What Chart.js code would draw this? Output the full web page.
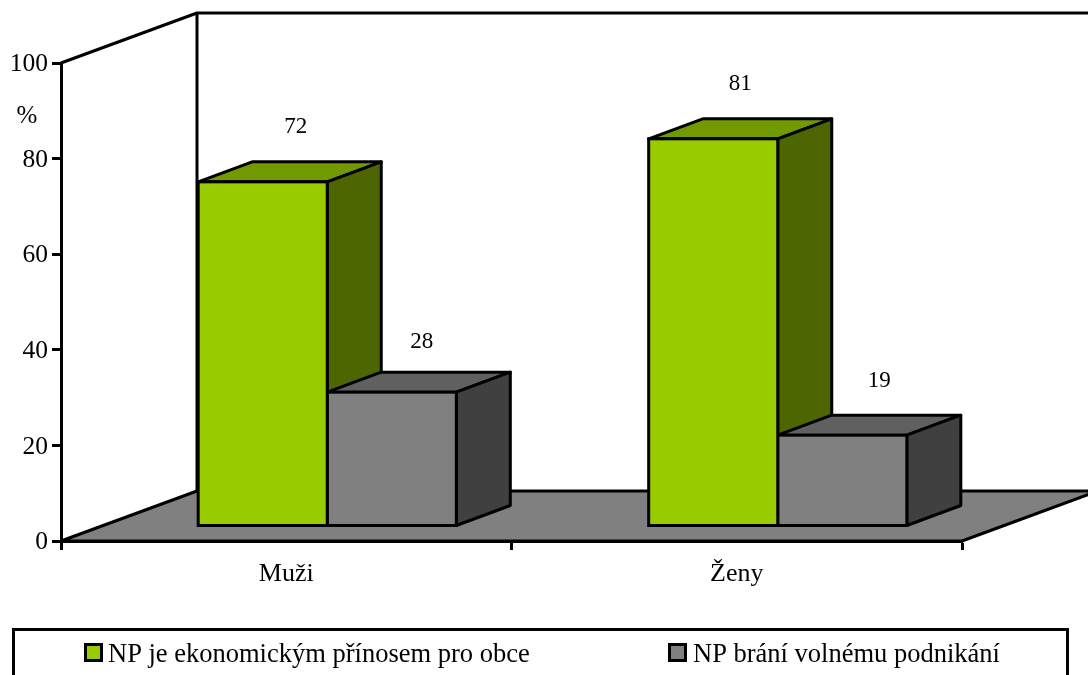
<!DOCTYPE html>
<html>
<head>
<meta charset="utf-8">
<style>
html,body{margin:0;padding:0;background:#fff;overflow:hidden}
#wrap{width:1088px;height:675px}
</style>
<script src="https://cdn.jsdelivr.net/npm/chart.js@4"></script>
</head>
<body>
<div id="wrap"><canvas id="chart" width="1088" height="675"></canvas></div>
<script>
const categories = ["Muži", "Ženy"]
const seriesNames = ["NP je ekonomickým přínosem pro obce", "NP brání volnému podnikání"]
const prinos = [72, 81]
const brani = [28, 19]
const yTicks = [0, 20, 40, 60, 80, 100]

const FONT = '"Liberation Serif"'
const LINE = 3
const frontFill = ["#99cc00", "#808080"]
const topFill = ["#739900", "#606060"]
const sideFill = ["#4d6600", "#404040"]

// 3d look: wall depth, how far bars sit from the front edge, bar depth
const wall = {dx: 136, dy: -50}
const shift = {dx: 41, dy: -15}
const depth = {dx: 54, dy: -20}
// the value labels are not placed evenly in the original
const labelNudge = [[[33, -54.5], [27, -55]], [[30, -50], [37, -54]]]

function poly(ctx, pts, fill){
    ctx.beginPath()
    pts.forEach((p, i)=> i ? ctx.lineTo(p[0], p[1]) : ctx.moveTo(p[0], p[1]))
    ctx.closePath()
    if(fill){ ctx.fillStyle = fill; ctx.fill() }
    ctx.stroke()
}

const box3d = {
    id: "box3d",
    // floor and walls go under the axes
    beforeDraw(chart){
        const {ctx, chartArea: a} = chart
        ctx.save()
        ctx.strokeStyle = "#000"
        ctx.lineWidth = LINE
        ctx.lineJoin = "round"
        poly(ctx, [[a.left, a.bottom], [a.left + wall.dx, a.bottom + wall.dy], [a.right + wall.dx, a.bottom + wall.dy], [a.right, a.bottom]], "#808080")
        ctx.beginPath()
        ctx.moveTo(a.left, a.top)
        ctx.lineTo(a.left + wall.dx, a.top + wall.dy)
        ctx.lineTo(a.right + wall.dx, a.top + wall.dy)
        ctx.moveTo(a.left + wall.dx, a.top + wall.dy)
        ctx.lineTo(a.left + wall.dx, a.bottom + wall.dy)
        ctx.stroke()
        ctx.restore()
    },
    // tops and sides first, green then grey, so the grey box covers the green side
    beforeDatasetsDraw(chart){
        const {ctx} = chart
        ctx.save()
        ctx.translate(shift.dx, shift.dy)
        ctx.strokeStyle = "#000"
        ctx.lineWidth = LINE
        ctx.lineJoin = "round"
        chart.data.datasets.forEach((ds, i)=>{
            chart.getDatasetMeta(i).data.forEach(bar=>{
                const l = bar.x - bar.width / 2, r = bar.x + bar.width / 2
                poly(ctx, [[l, bar.y], [l + depth.dx, bar.y + depth.dy], [r + depth.dx, bar.y + depth.dy], [r, bar.y]], topFill[i])
                poly(ctx, [[r, bar.y], [r + depth.dx, bar.y + depth.dy], [r + depth.dx, bar.base + depth.dy], [r, bar.base]], sideFill[i])
            })
        })
        ctx.restore()
    },
    beforeDatasetDraw(chart){
        chart.ctx.save()
        chart.ctx.translate(shift.dx, shift.dy)
    },
    // outline centred on the bar edge, the library's own border sits inside it
    afterDatasetDraw(chart, args){
        const {ctx} = chart
        ctx.strokeStyle = "#000"
        ctx.lineWidth = LINE
        args.meta.data.forEach(bar=>{
            ctx.strokeRect(bar.x - bar.width / 2, bar.y, bar.width, bar.base - bar.y)
        })
        ctx.restore()
    },
    afterDraw(chart){
        const {ctx} = chart
        ctx.save()
        ctx.fillStyle = "#000"
        ctx.textAlign = "center"
        ctx.textBaseline = "middle"
        // value labels over the bars
        ctx.font = "23px " + FONT
        chart.data.datasets.forEach((ds, i)=>{
            chart.getDatasetMeta(i).data.forEach((bar, j)=>{
                const n = labelNudge[i][j]
                ctx.fillText(ds.data[j], bar.x + shift.dx + n[0], bar.y + shift.dy + n[1])
            })
        })
        ctx.font = "25px " + FONT
        ctx.fillText("%", 27, 116)

        // legend
        ctx.strokeStyle = "#000"
        ctx.lineWidth = LINE
        ctx.strokeRect(13.5, 629.5, 1054, 60)
        ctx.textAlign = "left"
        ctx.textBaseline = "alphabetic"
        ctx.font = "26.5px " + FONT
        const items = [{box: 85.5, text: 108}, {box: 669.5, text: 693}]
        items.forEach((it, i)=>{
            ctx.fillStyle = frontFill[i]
            ctx.fillRect(it.box, 644.5, 16, 16)
            ctx.strokeRect(it.box, 644.5, 16, 16)
            ctx.fillStyle = "#000"
            ctx.fillText(seriesNames[i], it.text, 662)
        })
        ctx.restore()
    }
}

new Chart(document.getElementById("chart"), {
    type: "bar",
    plugins: [box3d],
    data: {
        labels: categories,
        datasets: [
            {label: seriesNames[0], data: prinos, backgroundColor: frontFill[0]},
            {label: seriesNames[1], data: brani, backgroundColor: frontFill[1]}
        ]
    },
    options: {
        responsive: false,
        animation: false,
        layout: {padding: {top: 63, right: 126, left: 0, bottom: 0}},
        datasets: {bar: {
            categoryPercentage: 0.573,
            barPercentage: 1,
            borderWidth: 0,
            inflateAmount: 0,
            clip: false
        }},
        plugins: {legend: {display: false}, tooltip: {enabled: false}, title: {display: false}},
        scales: {
            x: {
                afterFit: s=>{ s.height = 134 },
                grid: {drawOnChartArea: false, tickLength: 9, tickColor: "#000", tickWidth: LINE},
                border: {color: "#000", width: LINE},
                ticks: {color: "#000", font: {family: FONT, size: 26}, padding: 9, maxRotation: 0}
            },
            y: {
                min: 0,
                max: 100,
                afterFit: s=>{ s.width = 61 },
                afterBuildTicks: s=>{ s.ticks = yTicks.map(v=>({value: v})) },
                grid: {drawOnChartArea: false, tickLength: 9, tickColor: "#000", tickWidth: LINE},
                border: {color: "#000", width: LINE},
                ticks: {color: "#000", font: {family: FONT, size: 25.5}, padding: 4, labelOffset: 1.5}
            }
        }
    }
})
</script>
</body>
</html>
